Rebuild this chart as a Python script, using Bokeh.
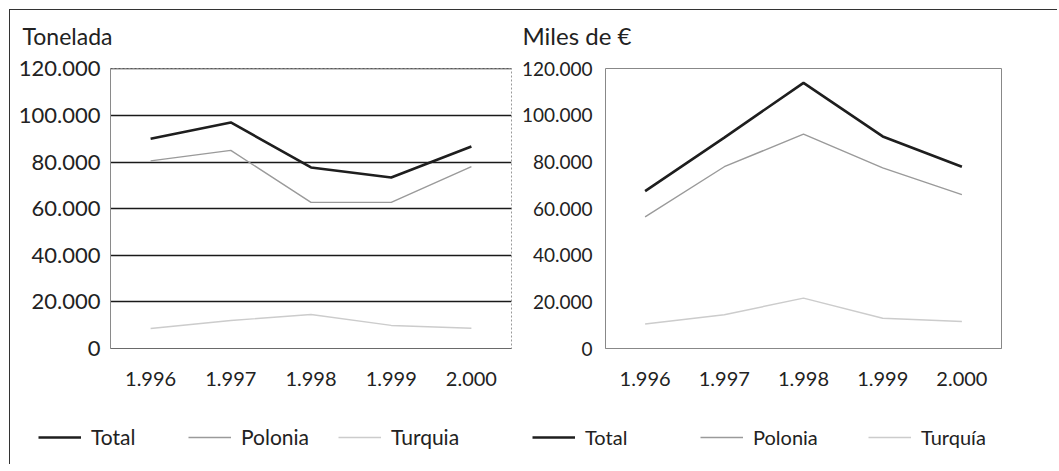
from bokeh.plotting import figure
from bokeh.layouts import row, column
from bokeh.models import Range1d, FactorRange, FixedTicker, Legend, LegendItem, Label
from bokeh.embed import file_html
from bokeh.resources import INLINE

years = ["1.996", "1.997", "1.998", "1.999", "2.000"]
y_ticks = [0, 20000, 40000, 60000, 80000, 100000, 120000]
y_tick_labels = ["0", "20.000", "40.000", "60.000", "80.000", "100.000", "120.000"]

ton_total = [90000, 97000, 77700, 73400, 86700]
ton_polonia = [80500, 85000, 62700, 62700, 78000]
ton_turquia = [8600, 12000, 14600, 9900, 8700]

eur_total = [67500, 90500, 114000, 91000, 78000]
eur_polonia = [56500, 78000, 92000, 77500, 66000]
eur_turquia = [10500, 14500, 21600, 13000, 11600]

left_title = "Tonelada"
right_title = "Miles de €"
left_names = ["Total", "Polonia", "Turquia"]
right_names = ["Total", "Polonia", "Turquía"]

FONT = "Lato"
TXT = "#222222"
C_TOTAL = "#1e1e1e"
C_POL = "#9a9a9a"
C_TUR = "#cccccc"
W_TOTAL, W_POL, W_TUR = 2.6, 1.4, 1.4

LW, RW = 504, 532
TOTAL_W = LW + RW


def make(total, pol, tur, width, mbl, mbr, yfs, xfs, ystand, grid):
    p = figure(width=width, height=353, x_range=FactorRange(factors=years, range_padding=0),
               y_range=Range1d(0, 120150), output_backend="svg", toolbar_location=None,
               min_border_left=mbl, min_border_right=mbr, min_border_top=15, min_border_bottom=58)
    p.background_fill_color = "white"
    p.border_fill_color = "white"

    p.line(years, total, line_color=C_TOTAL, line_width=W_TOTAL)
    p.line(years, pol, line_color=C_POL, line_width=W_POL)
    p.line(years, tur, line_color=C_TUR, line_width=W_TUR)

    p.yaxis.ticker = FixedTicker(ticks=y_ticks)
    p.yaxis.major_label_overrides = {t: l for t, l in zip(y_ticks, y_tick_labels)}
    for ax in (p.xaxis[0], p.yaxis[0]):
        ax.major_tick_line_color = None
        ax.minor_tick_line_color = None
        ax.major_tick_out = 0
        ax.major_tick_in = 0
        ax.major_label_text_font = FONT
        ax.major_label_text_color = TXT
    p.yaxis.major_label_text_font_size = yfs
    p.xaxis.major_label_text_font_size = xfs
    p.yaxis.major_label_standoff = ystand
    p.xaxis.major_label_standoff = 23

    if grid:
        p.ygrid.ticker = FixedTicker(ticks=y_ticks)
        p.ygrid.grid_line_color = "#1a1a1a"
        p.ygrid.grid_line_width = 1.4
        p.xgrid.grid_line_color = None
        p.yaxis.axis_line_color = "#8a8a8a"
        p.xaxis.axis_line_color = "#6a6a6a"
        p.outline_line_color = "#999999"
        p.outline_line_dash = "2 2"
    else:
        p.grid.grid_line_color = None
        p.yaxis.axis_line_color = None
        p.xaxis.axis_line_color = "#888888"
        p.outline_line_color = "#888888"
        p.outline_line_width = 1
    return p


left = make(ton_total, ton_polonia, ton_turquia, LW, 100, 3, "22px", "20px", 10, True)
right = make(eur_total, eur_polonia, eur_turquia, RW, 91, 45, "19px", "20px", 13, False)


def strip(h):
    s = figure(width=TOTAL_W, height=h, x_range=Range1d(0, TOTAL_W), y_range=Range1d(0, h),
               x_axis_type=None, y_axis_type=None, output_backend="svg",
               toolbar_location=None, min_border=0)
    s.outline_line_color = None
    s.grid.grid_line_color = None
    return s


# title strip above the charts
top = strip(43)
top.add_layout(Label(x=12, y=4, text=left_title, text_font=FONT, text_font_size="23px",
                     text_color=TXT, text_baseline="bottom"))
top.add_layout(Label(x=512, y=4, text=right_title, text_font=FONT, text_font_size="24px",
                     text_color=TXT, text_baseline="bottom"))

# legend strip below both charts
leg = strip(58)
dx, dy = [-50, -40], [-50, -40]
styles = [(C_TOTAL, W_TOTAL), (C_POL, W_POL), (C_TUR, W_TUR)]
left_r = [leg.line(dx, dy, line_color=c, line_width=w) for c, w in styles]
right_r = [leg.line(dx, dy, line_color=c, line_width=w) for c, w in styles]


def strip_legend(names, rends, x, lab_w, fs):
    lg = Legend(items=[LegendItem(label=n, renderers=[r]) for n, r in zip(names, rends)],
                orientation="horizontal", location=(x, 15),
                margin=0, padding=0, spacing=0, glyph_width=43, glyph_height=20,
                label_standoff=10, label_width=lab_w,
                label_text_font=FONT, label_text_font_size=fs, label_text_color=TXT,
                border_line_color=None, background_fill_alpha=0)
    leg.add_layout(lg, "center")


strip_legend(left_names, left_r, 28, 97, "21px")
strip_legend(right_names, right_r, 522, 115, "20px")

layout = column(top, row(left, right), leg,
                styles={"border-top": "1px solid #333", "border-left": "1px solid #333",
                        "margin-top": "9px", "margin-left": "9px", "padding-right": "11px"})

open("out.html", "w").write(file_html(layout, INLINE))
